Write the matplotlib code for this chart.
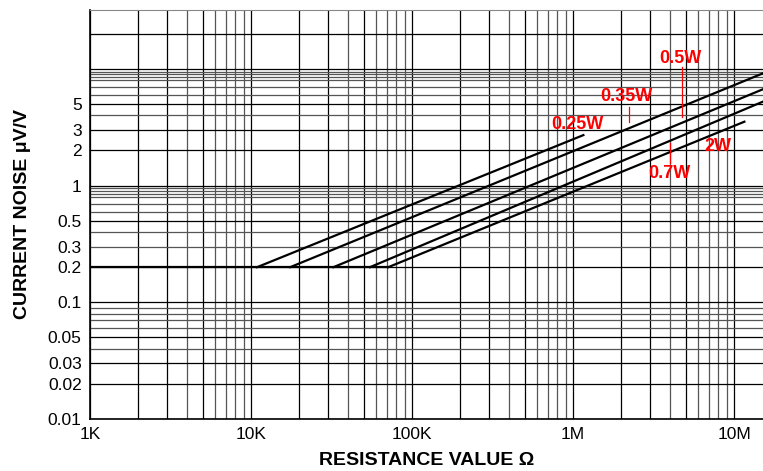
import numpy as np
import matplotlib
matplotlib.use("Agg")
import matplotlib.pyplot as plt

plt.rcParams['font.family'] = ['Liberation Sans', 'DejaVu Sans']

# rating labels and the curve points (resistance in ohm, noise in uV/V)
ratings = ["0.25W", "0.35W", "0.5W", "0.7W", "2W"]
start_r = [10.9e3, 17.5e3, 32.5e3, 54.8e3, 71.2e3]
end_r = [1.16e6, 15.1e6, 15.1e6, 15.1e6, 11.6e6]
end_v = [2.71, 9.16, 6.69, 5.24, 3.53]
floor_v = 0.2

ytick_vals = [0.01, 0.02, 0.03, 0.05, 0.1, 0.2, 0.3, 0.5, 1, 2, 3, 5]
ytick_labels = ["0.01", "0.02", "0.03", "0.05", "0.1", "0.2", "0.3", "0.5", "1", "2", "3", "5"]
xtick_vals = [1e3, 1e4, 1e5, 1e6, 1e7]
xtick_labels = ["1K", "10K", "100K", "1M", "10M"]

fig = plt.figure(figsize=(7.63, 4.71), dpi=100)
ax = fig.add_axes([0.118, 0.1104, 0.882, 0.8684])
ax.set_xscale('log')
ax.set_yscale('log')
ax.set_xlim(1e3, 1.514e7)
ax.set_ylim(0.01, 32)

# grid lines
for dec in [1e3, 1e4, 1e5, 1e6, 1e7]:
    for m in range(1, 10):
        v = dec * m
        if v < 1.514e7:
            ax.axvline(v, color='black' if m in (1, 2, 3, 5) else '#555555', lw=0.9, zorder=1)
ygrid = [0.01, 0.02, 0.03, 0.04, 0.05, 0.06, 0.07, 0.08, 0.09]
for dec in [0.1, 1]:
    ygrid += [dec * m for m in (1, 2, 3, 4, 5, 6, 7, 8, 8.5, 9, 9.5)]
ygrid += [10, 20]
for v in ygrid:
    ax.axhline(v, color='black' if v in ytick_vals or v in (10, 20) else '#555555', lw=0.9, zorder=1)

# curves
ax.plot([1e3, max(start_r)], [floor_v, floor_v], color='black', lw=1.6, zorder=3)
for sr, er, ev in zip(start_r, end_r, end_v):
    ax.plot([sr, er], [floor_v, ev], color='black', lw=1.6, zorder=3)

# labels
red = '#ff0000'
lab = dict(color=red, fontsize=13, fontweight='bold', ha='center', va='center', zorder=5)
ax.text(1.07e6, 3.37, ratings[0], **lab)
ax.text(2.13e6, 5.86, ratings[1], **lab)
ax.text(4.62e6, 12.4, ratings[2], **lab)
ax.text(3.95e6, 1.28, ratings[3], **lab)
ax.text(7.96e6, 2.18, ratings[4], **lab)
ax.plot([2.24e6, 2.24e6], [3.53, 4.74], color=red, lw=0.9, zorder=4)
ax.plot([4.73e6, 4.73e6], [3.89, 10.4], color=red, lw=0.9, zorder=4)
ax.plot([4.0e6, 4.0e6], [1.55, 2.30], color=red, lw=0.9, zorder=4)

ax.set_xticks(xtick_vals)
ax.set_xticklabels(xtick_labels)
ax.set_yticks(ytick_vals)
ax.set_yticklabels(ytick_labels)
ax.minorticks_off()
ax.tick_params(axis='both', length=0, labelsize=12.5)
ax.tick_params(axis='x', pad=6)
ax.tick_params(axis='y', pad=6)

ax.spines['right'].set_visible(False)
ax.spines['top'].set_color('#888888')
ax.spines['left'].set_linewidth(1.2)
ax.spines['bottom'].set_linewidth(1.2)

ax.set_xlabel('RESISTANCE VALUE Ω', fontsize=14, fontweight='bold', labelpad=7)
ax.set_ylabel('CURRENT NOISE μV/V', fontsize=14, fontweight='bold', labelpad=12)

fig.savefig('out.png', dpi=100)
